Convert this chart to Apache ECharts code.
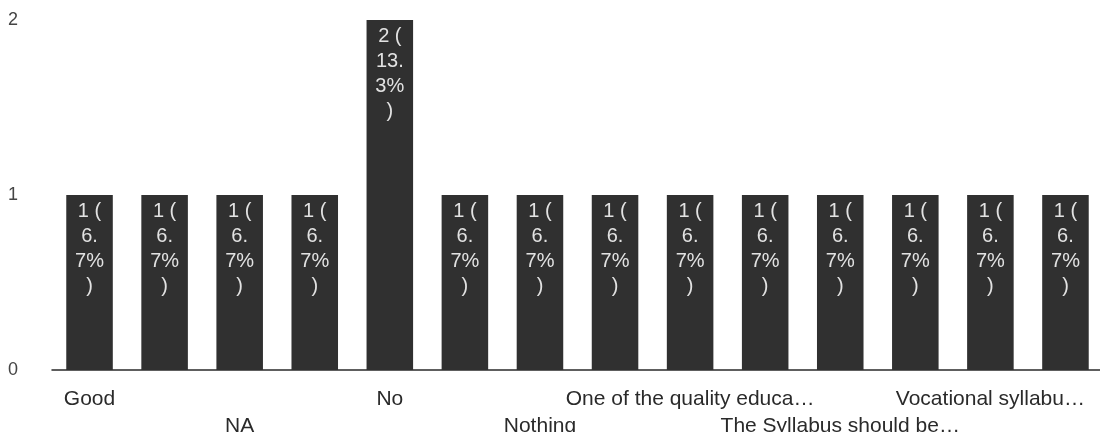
<!DOCTYPE html>
<html>
<head>
<meta charset="utf-8">
<script src="https://cdn.jsdelivr.net/npm/echarts@6/dist/echarts.min.js"></script>
<style>html,body{margin:0;padding:0;background:#fff}#c{width:1100px;height:432px}</style>
</head>
<body>
<div id="c"></div>
<script>
const categories = ["Good", "Good enough", "NA", "Nil", "No", "No comments", "Nothing", "Nothing to add", "One of the quality educa…", "Should be updated", "The Syllabus should be…", "Very good", "Vocational syllabu…", "Well designed"];
const counts = [1, 1, 1, 1, 2, 1, 1, 1, 1, 1, 1, 1, 1, 1];
const yTicks = [0, 1, 2];
const total = counts.reduce((a, b) => a + b, 0);

const FONT = 'Liberation Sans, Arial, sans-serif';
const labelBase = {
  hideOverlap: false,
  color: '#2a2a2a',
  fontSize: 21,
  fontFamily: FONT
};
const chart = echarts.init(document.getElementById('c'), null, {renderer: 'canvas'});
chart.setOption({
  backgroundColor: '#fff',
  animation: false,
  grid: {left: 52, right: -3, top: 20, bottom: 62, outerBoundsMode: 'none', containLabel: false},
  xAxis: [{
    type: 'category',
    data: categories,
    axisLine: {lineStyle: {color: '#2a2a2a', width: 1.5}},
    axisTick: {show: false},
    axisLabel: Object.assign({}, labelBase, {
      interval: i => i % 4 === 0,
      margin: 19
    })
  }, {
    type: 'category',
    data: categories,
    position: 'bottom',
    axisLine: {show: false},
    axisTick: {show: false},
    axisLabel: Object.assign({}, labelBase, {
      interval: i => i % 4 === 2,
      margin: 46
    })
  }],
  yAxis: {
    type: 'value',
    min: yTicks[0],
    max: yTicks[yTicks.length - 1],
    interval: 1,
    splitLine: {show: false},
    axisLine: {show: false},
    axisTick: {show: false},
    axisLabel: {
      color: '#444', fontSize: 18, margin: 44, align: 'left',
      fontFamily: FONT
    }
  },
  series: [{
    type: 'bar',
    xAxisIndex: 0,
    data: counts,
    barWidth: '62%',
    itemStyle: {color: '#303030'},
    label: {
      show: true,
      position: 'insideTop',
      distance: 4,
      color: '#e2e2e2',
      fontSize: 20,
      lineHeight: 25,
      fontFamily: FONT,
      formatter: p => {
        const pct = (p.value / total * 100).toFixed(1).split('.');
        return p.value + ' (\n' + pct[0] + '.\n' + pct[1] + '%\n)';
      }
    }
  }]
});
</script>
</body>
</html>
